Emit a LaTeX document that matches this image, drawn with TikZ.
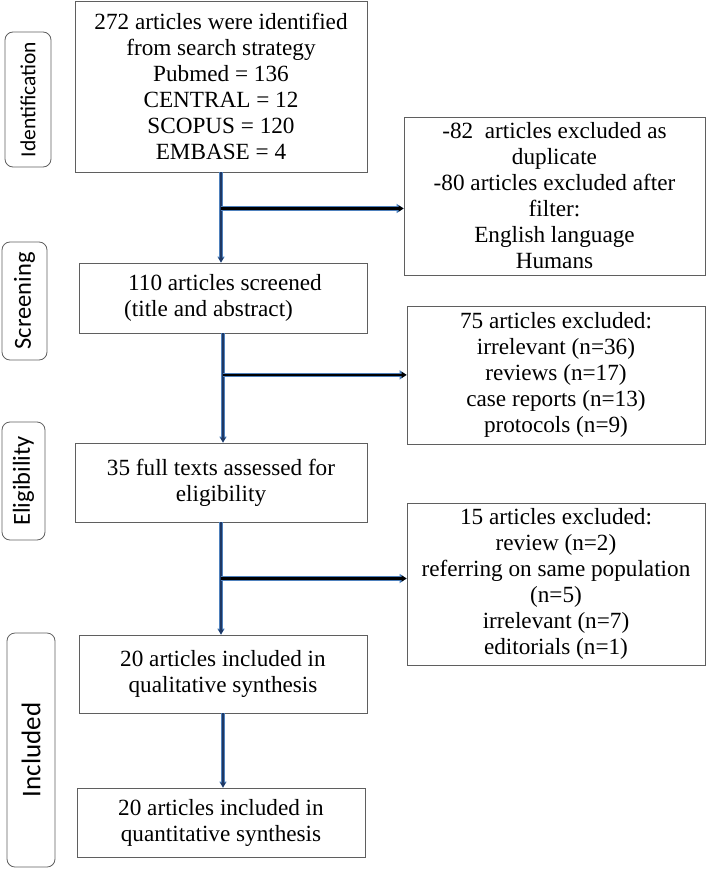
\documentclass[tikz,border=0pt]{standalone}
\usepackage{fontspec}
\setmainfont{Liberation Serif}
\newfontfamily\stagefont{Carlito}
\usetikzlibrary{arrows.meta,calc}
\definecolor{edgeblue}{RGB}{79,129,189}
\definecolor{navyline}{RGB}{31,56,100}
\definecolor{boxgray}{RGB}{95,95,95}

\begin{document}
\begin{tikzpicture}[x=1pt,y=-1pt,
    box/.style={draw=boxgray,line width=0.8pt,align=center,inner sep=0pt,font=\fontsize{23.2}{26}\selectfont},
    stage/.style={draw=boxgray,line width=0.8pt,rounded corners=8pt,rotate=90,inner sep=0pt},
    vflow/.style={draw=navyline,line width=1.8pt,-{Triangle[length=5pt,width=5pt]},
        preaction={draw=edgeblue,line width=3.6pt,-{Triangle[length=6pt,width=7pt]}}},
    hflow/.style={draw=black,line width=2.6pt,-{Triangle[length=5pt,width=6pt]},
        preaction={draw=edgeblue,line width=4.4pt,-{Triangle[length=7pt,width=9pt]}}}]
    \useasboundingbox (0,0) rectangle (708,869);

    \node (labid) at (28,99.5) [stage,minimum width=135pt,minimum height=46pt] {\stagefont\fontsize{21.5}{25}\selectfont Identification};
    \node (labscr) at (24.5,301) [stage,minimum width=118pt,minimum height=45pt] {\stagefont\fontsize{24.5}{28}\selectfont Screening};
    \node (labeli) at (23.5,481) [stage,minimum width=118pt,minimum height=43pt] {\stagefont\fontsize{24.5}{28}\selectfont Eligibility};
    \node (labinc) at (31,750) [stage,minimum width=234pt,minimum height=48pt] {\stagefont\fontsize{27}{31}\selectfont Included};

    \node (ident) at (221,86.5) [box,minimum width=292pt,minimum height=171pt]
        {272 articles were identified\\from search strategy\\Pubmed = 136\\CENTRAL = 12\\SCOPUS = 120\\EMBASE = 4};
    \node (excl01) at (554.5,196) [box,minimum width=301pt,minimum height=158pt]
        {-82\ \ articles excluded as\\duplicate\\-80 articles excluded after\\filter:\\English language\\Humans};
    \node (screen) at (223,298) [box,minimum width=288pt,minimum height=70pt,align=left]
        {\hspace*{4pt}110 articles screened\\(title and abstract)};
    \node (excl02) at (556,375) [box,minimum width=298pt,minimum height=138pt]
        {75 articles excluded:\\irrelevant (n=36)\\reviews (n=17)\\case reports (n=13)\\protocols (n=9)};
    \node (elig) at (221,482.5) [box,minimum width=292pt,minimum height=79pt]
        {35 full texts assessed for\\eligibility};
    \node (excl03) at (556,584) [box,minimum width=298pt,minimum height=162pt]
        {15 articles excluded:\\review (n=2)\\referring on same population\\(n=5)\\irrelevant (n=7)\\editorials (n=1)};
    \node (qual) at (223,674) [box,minimum width=288pt,minimum height=78pt]
        {20 articles included in\\qualitative synthesis};
    \node (quant) at (221,822.5) [box,minimum width=288pt,minimum height=69pt]
        {20 articles included in\\quantitative synthesis};

    \coordinate (j01) at ($(ident.south)!0.4!(ident.south |- screen.north)$);
    \coordinate (j02) at ($(screen.south)!0.38!(screen.south |- elig.north)$);
    \coordinate (j03) at ($(elig.south)!0.5!(elig.south |- qual.north)$);

    \draw[vflow] (ident.south) -- (ident.south |- screen.north);
    \draw[hflow] (j01) -- (j01 -| excl01.west);
    \draw[vflow] (screen.south) -- (screen.south |- elig.north);
    \draw[hflow] (j02) -- (j02 -| excl02.west);
    \draw[vflow] (elig.south) -- (elig.south |- qual.north);
    \draw[hflow] (j03) -- (j03 -| excl03.west);
    \draw[vflow] (qual.south) -- (qual.south |- quant.north);
\end{tikzpicture}
\end{document}
